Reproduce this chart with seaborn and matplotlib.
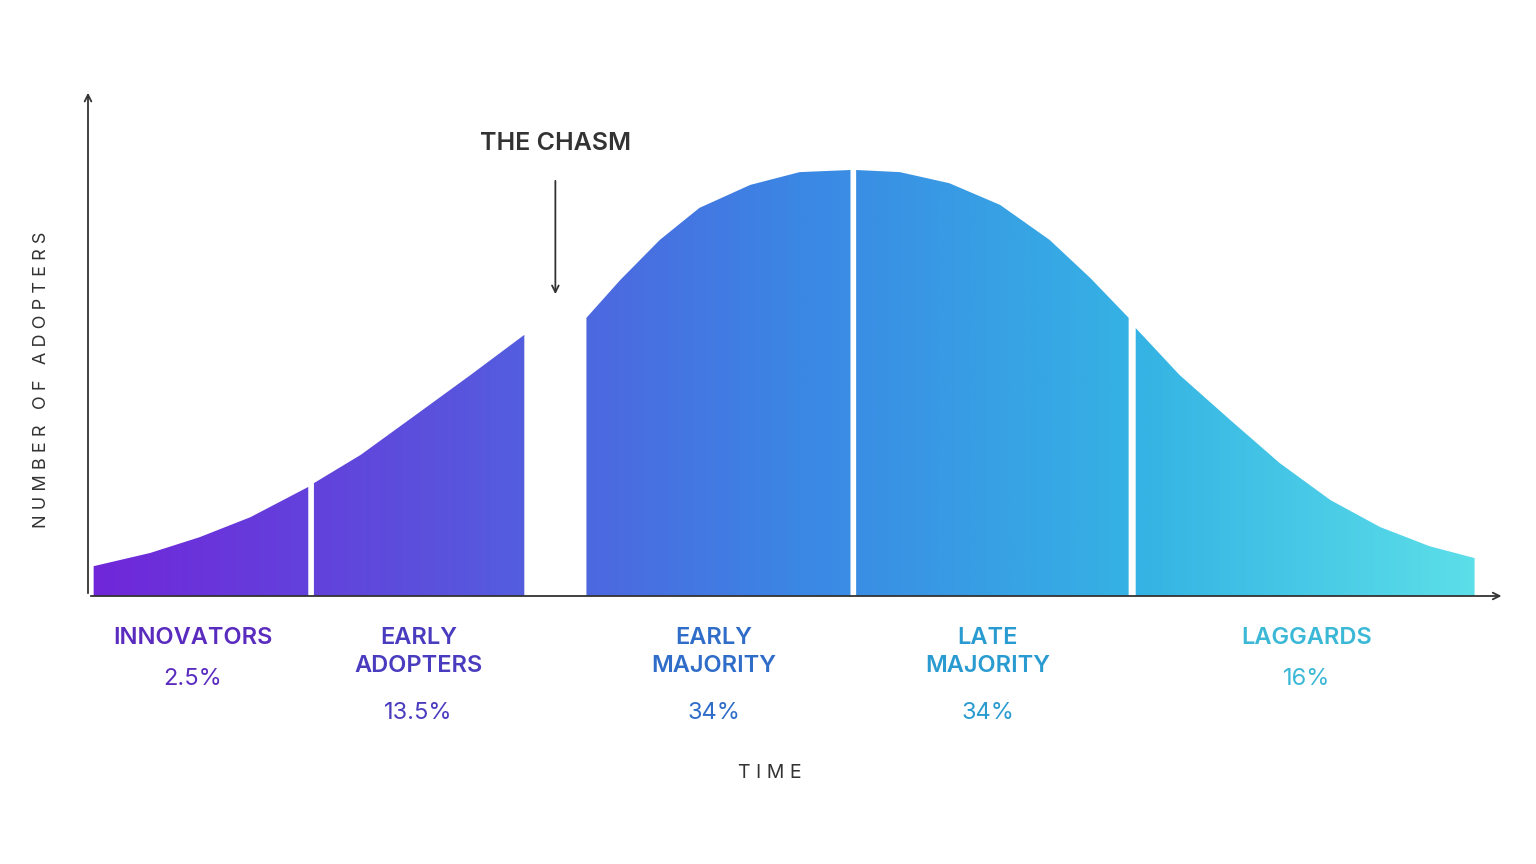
import numpy as np
import pandas as pd
import matplotlib.pyplot as plt
import seaborn as sns
from matplotlib.colors import LinearSegmentedColormap

# curve: time (0-100) and relative number of adopters (peak = 100)
innov_t = [0.4, 4.4, 7.9, 11.5, 15.6]
innov_h = [7.0, 10.1, 13.8, 18.5, 25.6]
early_t = [16.0, 19.3, 23.5, 27.1, 30.9]
early_h = [26.5, 33.1, 43.2, 51.9, 61.3]
emaj_t = [35.3, 37.7, 40.5, 43.3, 46.9, 50.4, 54.0]
emaj_h = [65.3, 74.2, 83.6, 91.1, 96.5, 99.5, 100.0]
lmaj_t = [54.4, 57.5, 61.0, 64.6, 68.1, 71.0, 73.7]
lmaj_h = [100.0, 99.5, 96.9, 91.8, 83.6, 74.6, 65.3]
lag_t = [74.2, 77.3, 80.9, 84.4, 88.0, 91.5, 95.0, 98.2]
lag_h = [62.9, 51.9, 41.3, 31.2, 22.5, 16.2, 11.7, 8.9]

names = ["INNOVATORS", "EARLY\nADOPTERS", "EARLY\nMAJORITY", "LATE\nMAJORITY", "LAGGARDS"]
shares = ["2.5%", "13.5%", "34%", "34%", "16%"]
label_x = [7.4, 23.4, 44.3, 63.7, 86.3]
text_colors = ["#5a2bbf", "#4a3cbf", "#2f6dc8", "#2a9bd0", "#3bb8d6"]

segments = [(innov_t, innov_h), (early_t, early_h), (emaj_t, emaj_h),
            (lmaj_t, lmaj_h), (lag_t, lag_h)]

sns.set_theme(style="white")
plt.rcParams["font.family"] = ["Inter", "DejaVu Sans"]

fig = plt.figure(figsize=(15.36, 8.64), dpi=100)
ax = fig.add_axes([88 / 1536, 268 / 864, 1412 / 1536, 506 / 864])
ymax = 506 / 426 * 100
ax.set_xlim(0, 100)
ax.set_ylim(0, ymax)
ax.axis("off")

cmap = LinearSegmentedColormap.from_list("adopt", ["#7126d9", "#5a52dd", "#3b86e4", "#35b4e4", "#5fe2e9"])
grad = np.linspace(0, 1, 512).reshape(1, -1)
for t, h in segments:
    df = pd.DataFrame({"t": t, "h": h})
    poly = ax.fill_between(df["t"], 0, df["h"], color="none", lw=0)
    img = ax.imshow(grad, extent=[0, 100, 0, 100], aspect="auto", cmap=cmap,
                    origin="lower", zorder=1)
    img.set_clip_path(poly.get_paths()[0], transform=ax.transData)

# axes arrows
ax.annotate("", xy=(0, 1), xytext=(0, 0), xycoords="axes fraction",
            arrowprops=dict(arrowstyle="->", color="#333333", lw=1.3), annotation_clip=False)
ax.annotate("", xy=(1.003, 0), xytext=(0, 0), xycoords="axes fraction",
            arrowprops=dict(arrowstyle="->", color="#333333", lw=1.3), annotation_clip=False)

for x, n, s, c in zip(label_x, names, shares, text_colors):
    ax.text(x, -7.2, n, ha="center", va="top", fontsize=17, fontweight="semibold",
            color=c, linespacing=1.35, clip_on=False)
    ylow = -17.0 if "\n" not in n else -24.8
    ax.text(x, ylow, s, ha="center", va="top", fontsize=17, color=c, clip_on=False)

ax.text(33.1, 106.3, "THE CHASM", ha="center", va="center", fontsize=18,
        fontweight="semibold", color="#333333")
ax.annotate("", xy=(33.1, 70.2), xytext=(33.1, 98.1),
            arrowprops=dict(arrowstyle="->", color="#333333", lw=1.3))

ax.text(48.3, -41.5, "T I M E", ha="center", va="center", fontsize=14, color="#333333", clip_on=False)
fig.text(42 / 1536, 1 - 380 / 864, "N U M B E R   O F   A D O P T E R S", rotation=90,
         ha="center", va="center", fontsize=13, color="#333333")

fig.savefig("out.png", dpi=100, facecolor="white")
